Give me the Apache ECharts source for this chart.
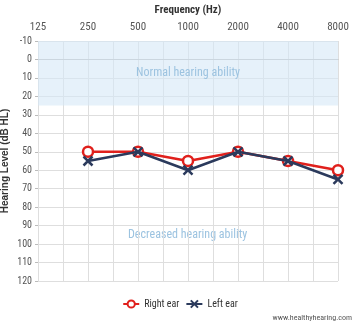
<!DOCTYPE html>
<html><head><meta charset="utf-8">
<script src="https://cdn.jsdelivr.net/npm/echarts@6/dist/echarts.min.js"></script>
<style>html,body{margin:0;padding:0;background:#fff}#c{width:360px;height:324px}</style>
</head><body><div id="c"></div>
<script>
var freqLabels = ['125','250','500','1000','2000','4000','8000'];
var rightEarFreqIdx = [1,2,3,4,5,6];
var rightEar = [50,50,55,50,55,60];
var leftEar = [55,50,60,50,55,65];
var yTicks = [-10,0,10,20,30,40,50,60,70,80,90,100,110,120];
var normalBand = [-10,25];

var FONT = '"Liberation Sans Narrow", "Roboto Condensed", Roboto, sans-serif';
var chart = echarts.init(document.getElementById('c'));
function pairs(vals){ return vals.map(function(v,i){ return [rightEarFreqIdx[i], v]; }); }
chart.setOption({
  animation:false,
  textStyle:{fontFamily:FONT},
  grid:{left:38,right:22,top:41,bottom:43,containLabel:false,outerBoundsMode:'none'},
  xAxis:{type:'value',position:'top',min:0,max:6,interval:0.5,
    name:'Frequency (Hz)',nameLocation:'middle',nameGap:25,nameMoveOverlap:false,
    nameTextStyle:{fontFamily:FONT,fontSize:11,fontWeight:'bold',color:'#333'},
    axisLine:{show:true,lineStyle:{color:'#bbb'}},
    axisTick:{show:false},
    axisLabel:{fontFamily:FONT,fontSize:11,color:'#555',margin:8,
      formatter:function(v){ return Number.isInteger(v)? freqLabels[v] : ''; }},
    splitLine:{show:true,lineStyle:{color:'#dedede'}}},
  yAxis:{type:'value',inverse:true,min:-10,max:120,interval:10,
    name:'Hearing Level (dB HL)',nameLocation:'middle',nameGap:28,nameRotate:90,nameMoveOverlap:false,
    nameTextStyle:{fontFamily:'"Liberation Sans", sans-serif',fontSize:10,fontWeight:'bold',color:'#333'},
    axisLine:{show:false},
    axisTick:{show:true,length:3,lineStyle:{color:'#bbb'}},
    axisLabel:{fontFamily:FONT,fontSize:10,color:'#555',margin:6},
    splitLine:{show:true,lineStyle:{color:'#dedede'}}},
  legend:{bottom:10,left:'center',itemGap:6,itemWidth:16,itemHeight:9,
    textStyle:{fontFamily:FONT,fontSize:10,color:'#333'},
    data:['Right ear','Left ear']},
  graphic:[
    {type:'text',left:128,top:229,style:{text:'Decreased hearing ability',fill:'#9cc3e0',font:'12px '+FONT}},
    {type:'text',right:8,bottom:2,style:{text:'www.healthyhearing.com',fill:'#555',font:'8px '+FONT}}
  ],
  series:[
    {name:'Right ear',type:'line',data:pairs(rightEar),z:3,
      lineStyle:{color:'#e0201c',width:2.5},
      symbol:'circle',symbolSize:10,
      itemStyle:{color:'#fff',borderColor:'#e0201c',borderWidth:2.5},
      markArea:{silent:true,itemStyle:{color:'rgba(214,232,246,0.6)'},
        label:{show:true,position:'inside',color:'#9cc3e0',fontFamily:FONT,fontSize:12},
        data:[[{name:'Normal hearing ability',xAxis:0,yAxis:normalBand[0]},{xAxis:6,yAxis:normalBand[1]}]]}},
    {name:'Left ear',type:'line',data:pairs(leftEar),z:4,
      lineStyle:{color:'#2b3a5c',width:2.5},
      symbol:'path://M0,0L10,10M10,0L0,10',symbolSize:9,
      itemStyle:{color:'#2b3a5c',borderColor:'#2b3a5c',borderWidth:2.5}}
  ]
});
</script></body></html>
